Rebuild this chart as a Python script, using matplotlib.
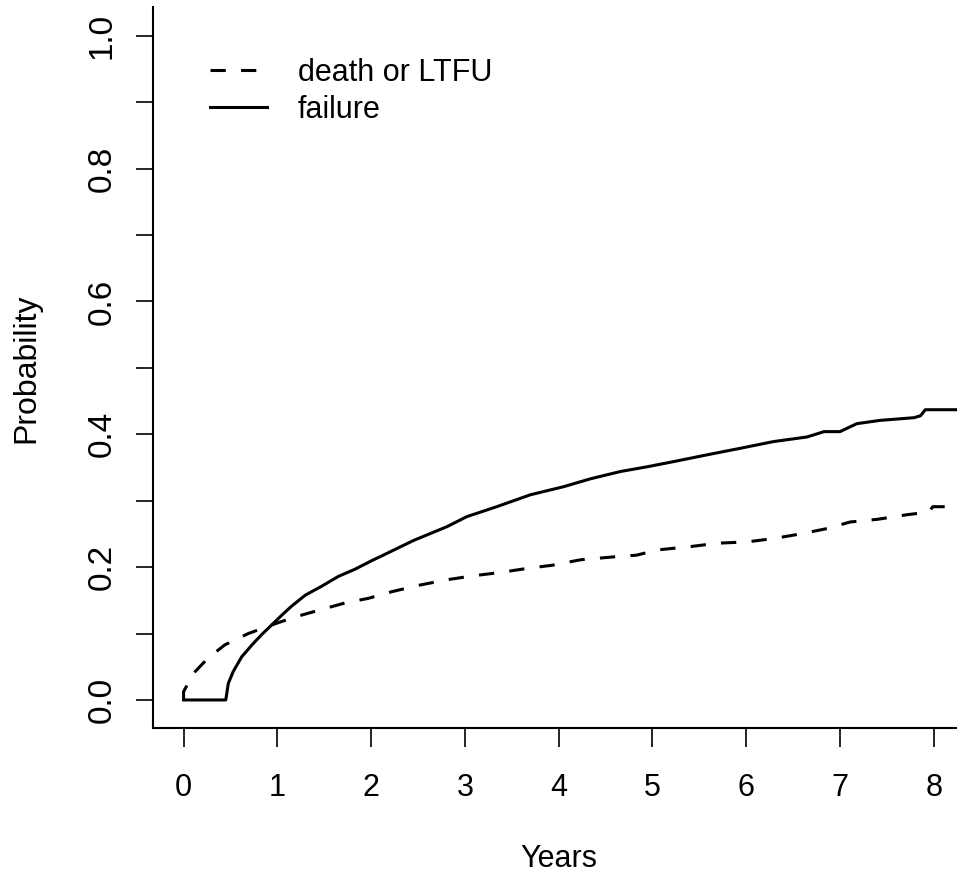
import matplotlib
matplotlib.use("Agg")
import matplotlib.pyplot as plt

plt.rcParams['font.family'] = ['Liberation Sans', 'DejaVu Sans']

# cumulative incidence, failure
fail_t = [0, 0.45, 0.477, 0.53, 0.62, 0.73, 0.83, 0.94, 1.05, 1.15, 1.30, 1.47,
          1.65, 1.83, 2.01, 2.10, 2.45, 2.81, 3.02, 3.34, 3.70, 4.05, 4.34, 4.66,
          4.94, 5.23, 5.58, 5.94, 6.29, 6.65, 6.83, 7.0, 7.18, 7.43, 7.79, 7.86,
          7.91, 8.4]
fail_p = [0.0, 0.0, 0.025, 0.043, 0.065, 0.083, 0.098, 0.113, 0.128, 0.141, 0.158, 0.171,
          0.186, 0.197, 0.210, 0.216, 0.240, 0.261, 0.276, 0.291, 0.309, 0.321, 0.333, 0.344,
          0.351, 0.359, 0.369, 0.379, 0.389, 0.396, 0.404, 0.404, 0.416, 0.421, 0.425, 0.428,
          0.437, 0.437]

# cumulative incidence, death or LTFU
death_t = [0, 0, 0.105, 0.26, 0.44, 0.69, 0.94, 1.19, 1.44, 1.72, 1.97, 2.22,
           2.52, 2.81, 3.09, 3.38, 3.66, 3.94, 4.23, 4.55, 4.83, 5.06, 5.41, 5.69,
           6.01, 6.29, 6.58, 6.86, 7.11, 7.40, 7.72, 7.95, 7.99, 8.4]
death_p = [0.0, 0.0125, 0.040, 0.063, 0.083, 0.100, 0.113, 0.125, 0.135, 0.146, 0.153, 0.163,
           0.173, 0.181, 0.187, 0.192, 0.198, 0.203, 0.211, 0.215, 0.218, 0.226, 0.231, 0.236,
           0.238, 0.243, 0.250, 0.258, 0.268, 0.272, 0.279, 0.283, 0.291, 0.291]

x_ticks = [0, 1, 2, 3, 4, 5, 6, 7, 8]
y_ticks = [0.0, 0.1, 0.2, 0.3, 0.4, 0.5, 0.6, 0.7, 0.8, 0.9, 1.0]
y_labels = ['0.0', '', '0.2', '', '0.4', '', '0.6', '', '0.8', '', '1.0']

fs = 22

fig = plt.figure(figsize=(9.57, 8.77), dpi=100, facecolor='white')
ax = fig.add_axes([0.1595, 0.1696, 0.8485, 0.822])

ax.plot(death_t, death_p, color='black', lw=2.2, linestyle=(0, (5, 5)),
        label='death or LTFU')
ax.plot(fail_t, fail_p, color='black', lw=2.2, linestyle='-',
        label='failure')

ax.set_xlim(-0.33, 8.33)
ax.set_ylim(-0.0426, 1.0428)

ax.spines['top'].set_visible(False)
ax.spines['right'].set_visible(False)
ax.spines['left'].set_linewidth(1.5)
ax.spines['bottom'].set_linewidth(1.5)

ax.set_xticks(x_ticks)
ax.set_xticklabels([str(t) for t in x_ticks])
ax.set_yticks(y_ticks)
ax.set_yticklabels(y_labels, rotation=90, va='center')
ax.tick_params(axis='x', length=13.5, width=1.2, pad=19, labelsize=fs)
ax.tick_params(axis='y', length=12.5, width=1.2, pad=12.5, labelsize=24)

ax.set_xlabel('Years', fontsize=fs)
ax.xaxis.set_label_coords(0.5, -0.16)
ax.set_ylabel('Probability', fontsize=23)
ax.yaxis.set_label_coords(-0.137, 0.5)

ax.legend(loc='upper left', bbox_to_anchor=(0.0707, 0.93), frameon=False,
          fontsize=fs, handlelength=1.87, handletextpad=1.0, labelspacing=0.23,
          borderpad=0, borderaxespad=0)

fig.savefig('out.png', dpi=100, facecolor='white')
